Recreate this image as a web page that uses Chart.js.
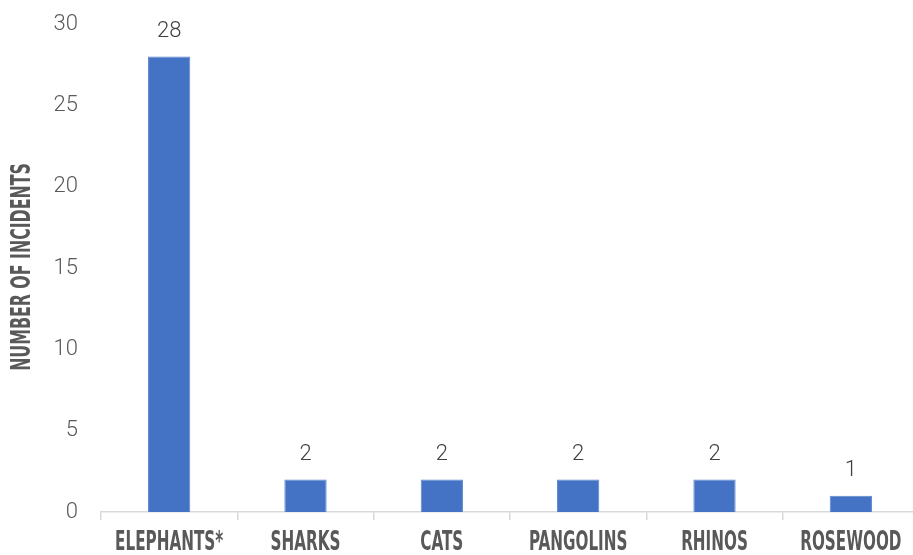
<!DOCTYPE html>
<html>
<head>
<meta charset="utf-8">
<script src="https://cdn.jsdelivr.net/npm/chart.js@4/dist/chart.umd.min.js"></script>
<style>
  html, body { margin: 0; padding: 0; background: #fff; overflow: hidden; }
  #wrap { width: 919px; height: 555px; }
</style>
</head>
<body>
<div id="wrap"><canvas id="incidents"></canvas></div>
<script>
const categories = ["ELEPHANTS*", "SHARKS", "CATS", "PANGOLINS", "RHINOS", "ROSEWOOD"];
const incidents = [28, 2, 2, 2, 2, 1];
const yTicks = [0, 5, 10, 15, 20, 25, 30];
const yTitle = "NUMBER OF INCIDENTS";

const labelFont = '"DejaVu Sans Condensed", "Liberation Sans Narrow", sans-serif';
const squeeze = 0.65; // narrow the bold caps horizontally

// Draws the category names, axis title and value labels.
const textPlugin = {
  id: "textPlugin",
  afterDraw(chart) {
    const ctx = chart.ctx;
    const x = chart.scales.x;
    const y = chart.scales.y;
    ctx.save();

    // value labels above bars
    ctx.font = '300 22px Roboto, sans-serif';
    ctx.fillStyle = "#404040";
    ctx.textAlign = "center";
    ctx.textBaseline = "middle";
    incidents.forEach((v, i) => {
      ctx.fillText(String(v), x.getPixelForValue(i), y.getPixelForValue(v) - 25);
    });

    // category names
    ctx.font = 'bold 26px ' + labelFont;
    ctx.fillStyle = "#595959";
    categories.forEach((c, i) => {
      ctx.save();
      ctx.translate(x.getPixelForValue(i), 543);
      ctx.scale(squeeze, 1);
      ctx.fillText(c, 0, 0);
      ctx.restore();
    });

    // rotated y title
    ctx.save();
    ctx.translate(23, 267);
    ctx.rotate(-Math.PI / 2);
    ctx.scale(squeeze, 1);
    ctx.font = 'bold 27px ' + labelFont;
    ctx.fillText(yTitle, 0, 0);
    ctx.restore();

    ctx.restore();
  }
};

new Chart(document.getElementById("incidents"), {
  type: "bar",
  data: {
    labels: categories,
    datasets: [{
      data: incidents,
      backgroundColor: "#4472C4",
      borderColor: "#5b84cc",
      borderWidth: 1,
      categoryPercentage: 1,
      barPercentage: 0.31
    }]
  },
  options: {
    responsive: true,
    maintainAspectRatio: false,
    animation: false,
    layout: { padding: { top: 24, right: 0, left: 0, bottom: 0 } },
    plugins: {
      legend: { display: false },
      tooltip: { enabled: false }
    },
    scales: {
      x: {
        grid: {
          offset: true,
          drawOnChartArea: false,
          drawTicks: true,
          tickLength: 8,
          color: "#d9d9d9",
          lineWidth: 1.5
        },
        border: { color: "#d9d9d9", width: 1.5 },
        ticks: { display: false },
        afterFit(scale) { scale.height = 43; }
      },
      y: {
        min: 0,
        max: 30,
        afterBuildTicks(scale) { scale.ticks = yTicks.map(v => ({ value: v })); },
        grid: { display: false, drawTicks: false },
        border: { display: false },
        ticks: {
          padding: 23,
          color: "#595959",
          font: { family: "Roboto, sans-serif", size: 22, weight: 300 }
        },
        afterFit(scale) {
          scale.width = 101;
          scale.paddingTop = 0;
          scale.paddingBottom = 0;
        }
      }
    }
  },
  plugins: [textPlugin]
});
</script>
</body>
</html>
